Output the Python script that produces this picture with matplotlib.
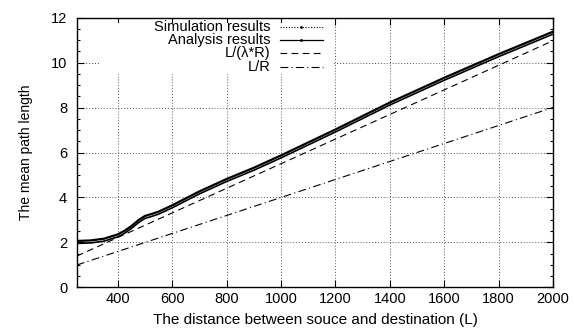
import matplotlib
matplotlib.use("Agg")
import matplotlib.pyplot as plt
from matplotlib.lines import Line2D
from matplotlib.patches import Rectangle
from matplotlib.ticker import MultipleLocator

plt.rcParams['font.family'] = ['Liberation Sans', 'DejaVu Sans']

# distance L and mean path length
dist = [250, 300, 350, 400, 425, 450, 475, 500, 525, 550, 600, 700, 800, 900, 1000, 1200, 1400, 1600, 1800, 2000]
sim_len = [2.07, 2.09, 2.17, 2.36, 2.52, 2.73, 2.98, 3.18, 3.27, 3.37, 3.65, 4.27, 4.82, 5.32, 5.87, 7.02, 8.22, 9.32, 10.37, 11.37]
ana_len = [1.96, 1.98, 2.06, 2.25, 2.41, 2.62, 2.87, 3.07, 3.16, 3.26, 3.54, 4.16, 4.71, 5.21, 5.76, 6.91, 8.11, 9.21, 10.26, 11.26]

# reference lines (end points)
ref_dist = [250, 2000]
l_over_lr = [1.40, 10.97]
l_over_r = [1.0, 8.0]

labels = ['Simulation results', 'Analysis results', 'L/(\u03bb*R)', 'L/R']

fig = plt.figure(figsize=(5.74, 3.28), dpi=100)
ax = fig.add_axes([0.134, 0.1235, 0.8294, 0.8231])

styles = [
    dict(color='black', lw=1.6, ls='-'),
    dict(color='black', lw=1.2, ls='-'),
    dict(color='black', lw=0.8, ls=(0, (6, 4))),
    dict(color='black', lw=0.8, ls=(0, (7, 3, 1, 3))),
]

ax.plot(dist, sim_len, zorder=5, **styles[0])
ax.plot(dist, ana_len, zorder=5, **styles[1])
ax.plot(ref_dist, l_over_lr, zorder=4, **styles[2])
ax.plot(ref_dist, l_over_r, zorder=4, **styles[3])

ax.set_xlim(250, 2000)
ax.set_ylim(0, 12)
ax.yaxis.set_major_locator(MultipleLocator(2))
ax.yaxis.set_minor_locator(MultipleLocator(0.5))
ax.set_xticks(range(400, 2001, 200))
ax.tick_params(which='both', direction='in', top=True, right=True, labelsize=10.5, width=0.8)
ax.tick_params(which='major', length=5)
ax.tick_params(which='minor', length=2.5)
ax.tick_params(axis='y', which='major', pad=7)
ax.grid(True, which='major', ls=(0, (1, 2)), color='#555555', lw=0.7)
for s in ax.spines.values():
    s.set_linewidth(1.0)

ax.set_xlabel('The distance between souce and destination (L)', fontsize=11, labelpad=5)
ax.set_ylabel('The mean path length', fontsize=10, labelpad=13)

# key box (gnuplot style, blanks the grid behind it)
ax.add_patch(Rectangle((0.048, 0.79), 0.488, 0.19, transform=ax.transAxes,
                       facecolor='white', edgecolor='none', zorder=3))
rows = [0.964, 0.915, 0.867, 0.818]
key_styles = [
    dict(color='black', lw=0.8, ls=(0, (1, 1.5))),
    dict(color='black', lw=0.9, ls='-'),
    dict(color='black', lw=0.8, ls=(0, (6, 4))),
    dict(color='black', lw=0.8, ls=(0, (7, 3, 1, 3))),
]
for lab, yy, st in zip(labels, rows, key_styles):
    ax.text(0.407, yy, lab, transform=ax.transAxes, ha='right', va='center',
            fontsize=10.5, zorder=6)
    ax.add_line(Line2D([0.426, 0.517], [yy, yy], transform=ax.transAxes, zorder=6, **st))
for yy in rows[:2]:
    ax.add_line(Line2D([0.4715], [yy], transform=ax.transAxes, marker='.',
                       markersize=2, color='black', zorder=6))

fig.savefig('out.png', dpi=100)
